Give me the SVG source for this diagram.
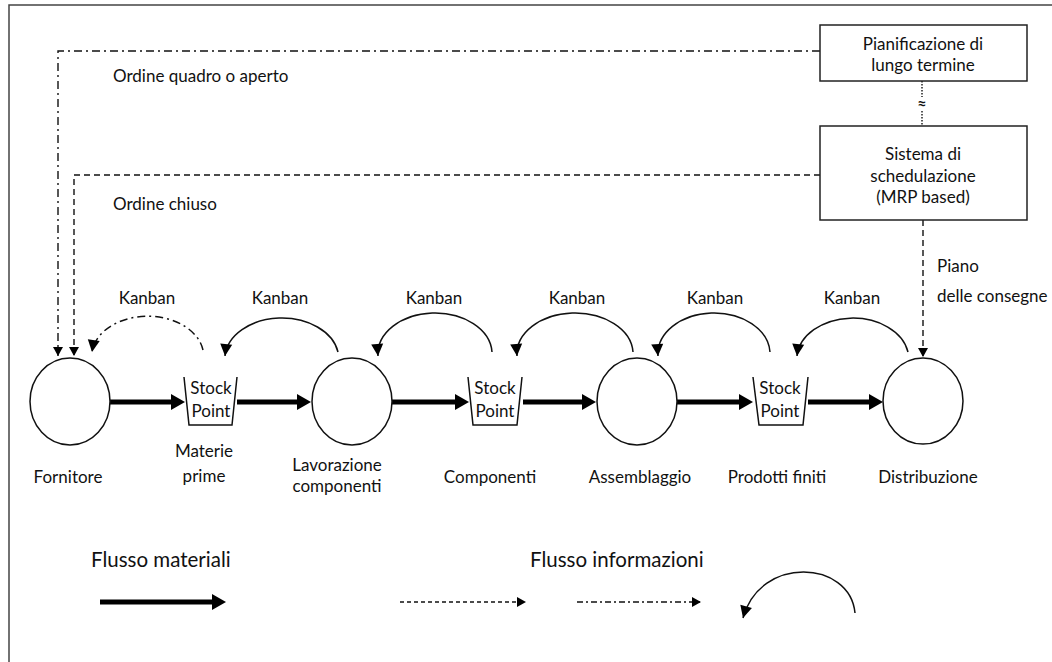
<svg xmlns="http://www.w3.org/2000/svg" width="1052" height="662" viewBox="0 0 1052 662">
  <style>
    text { font-family: Lato, "Liberation Sans", sans-serif; font-size: 17px; fill: #111; }
    .mid { text-anchor: middle; }
    .legend { font-size: 20.5px; }
    .box { fill: #fff; stroke: #222; stroke-width: 1.5; }
    .node { fill: #fff; stroke: #111; stroke-width: 1.5; }
    .bucket { fill: none; stroke: #111; stroke-width: 1.5; }
    .thick { stroke: #000; stroke-width: 5; fill: none; marker-end: url(#bigHead); }
    .dash { stroke: #111; stroke-width: 1.4; fill: none; stroke-dasharray: 6 4; }
    .dashdot { stroke: #111; stroke-width: 1.4; fill: none; stroke-dasharray: 8 4 2 4; }
    .dot { stroke: #111; stroke-width: 1.4; fill: none; stroke-dasharray: 1.5 1.5; }
    .kanban { stroke: #111; stroke-width: 1.5; fill: none; marker-end: url(#kHead); }
  </style>
  <defs>
    <marker id="bigHead" markerUnits="userSpaceOnUse" markerWidth="20" markerHeight="20" viewBox="0 -10 16 20" refX="1" refY="0" orient="auto">
      <path d="M0,-8 L14,0 L0,8 z" fill="#000"/>
    </marker>
    <marker id="kHead" markerUnits="userSpaceOnUse" markerWidth="16" markerHeight="16" viewBox="-14 -8 16 16" refX="0" refY="0" orient="auto">
      <path d="M-12,-6 L0,0 L-12,6 z" fill="#000"/>
    </marker>
    <marker id="smallHead" markerUnits="userSpaceOnUse" markerWidth="12" markerHeight="12" viewBox="-10 -6 12 12" refX="0" refY="0" orient="auto">
      <path d="M-9,-5 L0,0 L-9,5 z" fill="#000"/>
    </marker>
  </defs>

  <rect x="0" y="0" width="1052" height="662" fill="#fff"/>
  <!-- outer frame -->
  <rect x="9" y="5" width="1100" height="700" fill="none" stroke="#444" stroke-width="1.5"/>

  <!-- connectors -->
  <g id="connectors">
    <!-- open order from long-term planning -->
    <path class="dashdot" d="M820,51 H58 V356" marker-end="url(#smallHead)"/>
    <!-- closed order from scheduling system -->
    <path class="dash" d="M820,175 H74 V356" marker-end="url(#smallHead)"/>
    <!-- delivery plan -->
    <path class="dash" d="M923,220 V357" marker-end="url(#smallHead)"/>
    <!-- planning link -->
    <path class="dot" d="M922,81 V97"/>
    <path class="dot" d="M922,111 V126"/>
    <text x="922" y="109" class="mid" style="font-size:16px;font-weight:bold">≈</text>

    <!-- material flow -->
    <path class="thick" d="M110,402 H172"/>
    <path class="thick" d="M237,402 H298"/>
    <path class="thick" d="M392,402 H456"/>
    <path class="thick" d="M523,402 H583"/>
    <path class="thick" d="M677,402 H740"/>
    <path class="thick" d="M808,402 H870"/>

    <!-- kanban loops -->
    <path class="kanban dashdot" d="M203,350 A56 40 0 0 0 92,352"/>
    <path class="kanban" d="M338,352 A57 41 0 0 0 225,356"/>
    <path class="kanban" d="M492,352 A57 41 0 0 0 378,356"/>
    <path class="kanban" d="M633,352 A58 41 0 0 0 517,356"/>
    <path class="kanban" d="M770,352 A56 41 0 0 0 658,356"/>
    <path class="kanban" d="M908,352 A56 41 0 0 0 797,356"/>
  </g>

  <!-- connector labels -->
  <g id="labels">
    <text x="113" y="82">Ordine quadro o aperto</text>
    <text x="113" y="210">Ordine chiuso</text>
    <text x="937" y="272">Piano</text>
    <text x="937" y="302">delle consegne</text>
    <text x="147" y="304" class="mid">Kanban</text>
    <text x="280" y="304" class="mid">Kanban</text>
    <text x="434" y="304" class="mid">Kanban</text>
    <text x="577" y="304" class="mid">Kanban</text>
    <text x="715" y="304" class="mid">Kanban</text>
    <text x="852" y="304" class="mid">Kanban</text>
  </g>

  <g id="pianificazione">
    <rect class="box" x="820" y="25" width="207" height="56"/>
    <text x="923" y="50" class="mid">Pianificazione di</text>
    <text x="923" y="71" class="mid">lungo termine</text>
  </g>

  <g id="sistema">
    <rect class="box" x="820" y="126" width="207" height="94"/>
    <text x="923" y="160" class="mid">Sistema di</text>
    <text x="923" y="182" class="mid">schedulazione</text>
    <text x="923" y="203" class="mid">(MRP based)</text>
  </g>

  <g id="fornitore">
    <ellipse class="node" cx="70" cy="401.5" rx="40" ry="43.5"/>
    <text x="68" y="483" class="mid">Fornitore</text>
  </g>

  <g id="stock-materie">
    <path class="bucket" d="M184,377 L189,425 H232 L237,377"/>
    <text x="211" y="394" class="mid">Stock</text>
    <text x="211" y="417" class="mid">Point</text>
    <text x="204" y="457" class="mid">Materie</text>
    <text x="204" y="482" class="mid">prime</text>
  </g>

  <g id="lavorazione">
    <ellipse class="node" cx="352" cy="401.5" rx="40" ry="43.5"/>
    <text x="337" y="471" class="mid">Lavorazione</text>
    <text x="337" y="492" class="mid">componenti</text>
  </g>

  <g id="stock-componenti">
    <path class="bucket" d="M468,377 L473,425 H517 L522,377"/>
    <text x="495" y="394" class="mid">Stock</text>
    <text x="495" y="417" class="mid">Point</text>
    <text x="490" y="483" class="mid">Componenti</text>
  </g>

  <g id="assemblaggio">
    <ellipse class="node" cx="637" cy="401.5" rx="40" ry="43.5"/>
    <text x="640" y="483" class="mid">Assemblaggio</text>
  </g>

  <g id="stock-prodotti">
    <path class="bucket" d="M753,377 L759,425 H803 L808,377"/>
    <text x="780" y="394" class="mid">Stock</text>
    <text x="780" y="417" class="mid">Point</text>
    <text x="777" y="483" class="mid">Prodotti finiti</text>
  </g>

  <g id="distribuzione">
    <ellipse class="node" cx="923" cy="401" rx="40" ry="43"/>
    <text x="928" y="483" class="mid">Distribuzione</text>
  </g>

  <!-- legend -->
  <g id="legend">
    <text x="91" y="567" class="legend">Flusso materiali</text>
    <text x="530" y="567" class="legend">Flusso informazioni</text>
    <path class="thick" d="M100,602 H213"/>
    <path class="dash" style="stroke-dasharray:4 3" d="M400,602 H526" marker-end="url(#smallHead)"/>
    <path class="dashdot" style="stroke-dasharray:6 3 2 3" d="M577,602 H701" marker-end="url(#smallHead)"/>
    <path class="kanban" d="M855,613 C850,560 760,555 743,618"/>
  </g>
</svg>
